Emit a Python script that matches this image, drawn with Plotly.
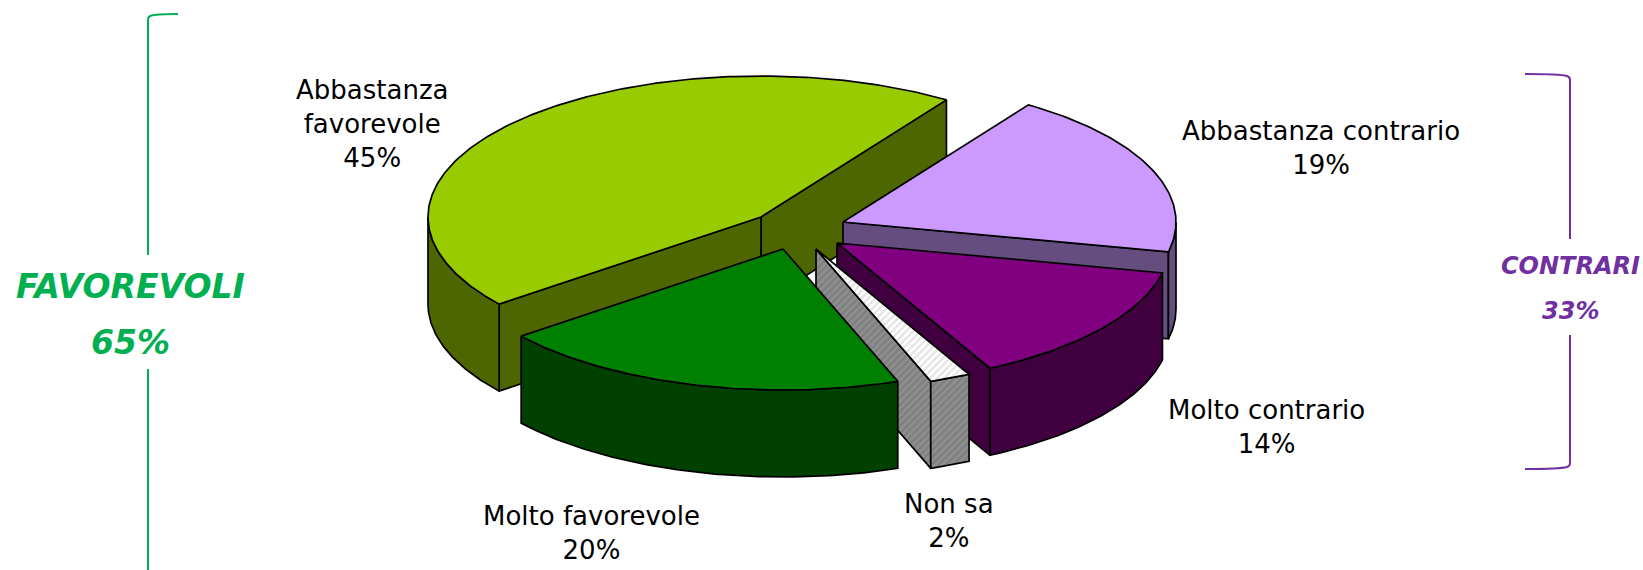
import numpy as np
import plotly.graph_objects as go

# ---- data ----
categories = ["Abbastanza favorevole", "Molto favorevole", "Non sa", "Molto contrario", "Abbastanza contrario"]
label_lines = ["Abbastanza<br>favorevole", "Molto favorevole", "Non sa", "Molto contrario", "Abbastanza contrario"]
values = [45, 20, 2, 14, 19]
group_names = ["FAVOREVOLI", "CONTRARI"]
group_values = [65, 33]

# ---- geometry and style ----
W, H = 1643, 570
RX, RY, DEPTH = 333, 141, 87
START_ANGLE = 56.16
apex = {"Abbastanza favorevole": (761, 217), "Molto favorevole": (783, 249), "Non sa": (816, 249),
        "Molto contrario": (837, 243), "Abbastanza contrario": (843, 222)}
top_col = {"Abbastanza favorevole": "#99CC00", "Molto favorevole": "#008000", "Non sa": "#FFFFFF",
           "Molto contrario": "#800080", "Abbastanza contrario": "#CC99FF"}
wall_col = {"Abbastanza favorevole": "#4D6600", "Molto favorevole": "#004000", "Non sa": "#7F7F7F",
            "Molto contrario": "#400040", "Abbastanza contrario": "#664D80"}
label_pos = {"Abbastanza favorevole": (372, 124), "Molto favorevole": (591, 533), "Non sa": (949, 521),
             "Molto contrario": (1266, 427), "Abbastanza contrario": (1321, 148)}
draw_order = ["Abbastanza favorevole", "Abbastanza contrario", "Molto contrario", "Non sa", "Molto favorevole"]
LINE = dict(color="black", width=1.7)
FONT = "DejaVu Sans, Verdana, sans-serif"

# angular span of each slice, from the values
spans = {}
a = START_ANGLE
for c, v in zip(categories, values):
    b = a + v * 3.6
    spans[c] = (a, b)
    a = b


def rim(c, a0, a1):
    n = max(2, int(abs(a1 - a0) * 1.5))
    t = np.radians(np.linspace(a0, a1, n))
    ax, ay = apex[c]
    return ax + RX * np.cos(t), ay - RY * np.sin(t)


def poly(x, y, col, pattern=None):
    kw = {}
    if pattern:
        kw["fillpattern"] = dict(shape="/", bgcolor=col, fgcolor=pattern, size=5, solidity=0.5)
    return go.Scatter(x=list(x) + [x[0]], y=list(y) + [y[0]], mode="lines", fill="toself", fillcolor=col,
                      line=LINE, hoverinfo="skip", showlegend=False, **kw)


fig = go.Figure()
for c in draw_order:
    a0, a1 = spans[c]
    ax, ay = apex[c]
    wall_pat = "#A0A0A0" if c == "Non sa" else None
    top_pat = "#CCCCCC" if c == "Non sa" else None
    # radial walls that face the viewer
    for ang, visible in ((a0, np.cos(np.radians(a0)) > 0), (a1, np.cos(np.radians(a1)) < 0)):
        if not visible:
            continue
        ex, ey = rim(c, ang, ang)
        ex, ey = ex[0], ey[0]
        fig.add_trace(poly([ax, ex, ex, ax], [ay, ey, ey + DEPTH, ay + DEPTH], wall_col[c], wall_pat))
    # outer wall: the part of the rim that faces the viewer
    for lo, hi in ((180, 360), (540, 720)):
        s, e = max(a0, lo), min(a1, hi)
        if e > s:
            x, y = rim(c, s, e)
            fig.add_trace(poly(np.r_[x, x[::-1]], np.r_[y, y[::-1] + DEPTH], wall_col[c], wall_pat))
    # top face
    x, y = rim(c, a0, a1)
    fig.add_trace(poly(np.r_[ax, x], np.r_[ay, y], top_col[c], top_pat))

annotations = []
for c, v, t in zip(categories, values, label_lines):
    px, py = label_pos[c]
    annotations.append(dict(x=px, y=py, text=f"{t}<br>{v}%", showarrow=False, xanchor="center", yanchor="middle",
                            font=dict(family=FONT, size=26, color="black")))
GREEN, PURPLE = "#00B050", "#7030A0"
annotations += [
    dict(x=130, y=286, text=f"<b><i>{group_names[0]}</i></b>", showarrow=False,
         font=dict(family=FONT, size=33, color=GREEN)),
    dict(x=130, y=342, text=f"<b><i>{group_values[0]}%</i></b>", showarrow=False,
         font=dict(family=FONT, size=33, color=GREEN)),
    dict(x=1570, y=266, text=f"<b><i>{group_names[1]}</i></b>", showarrow=False,
         font=dict(family=FONT, size=24, color=PURPLE)),
    dict(x=1570, y=311, text=f"<b><i>{group_values[1]}%</i></b>", showarrow=False,
         font=dict(family=FONT, size=24, color=PURPLE)),
]

BR = 2
shapes = [
    dict(type="path", path="M 178 14 Q 155 14 150 16 Q 148 17 148 20 L 148 255", line=dict(color=GREEN, width=BR)),
    dict(type="line", x0=148, x1=148, y0=369, y1=570, line=dict(color=GREEN, width=BR)),
    dict(type="path", path="M 1525 74 Q 1560 74 1567 76 Q 1570 77 1570 80 L 1570 239", line=dict(color=PURPLE, width=BR)),
    dict(type="path", path="M 1570 335 L 1570 463 Q 1570 466 1567 467 Q 1560 469 1525 469", line=dict(color=PURPLE, width=BR)),
]

fig.update_layout(
    width=W, height=H, margin=dict(l=0, r=0, t=0, b=0), paper_bgcolor="white", plot_bgcolor="white",
    xaxis=dict(range=[0, W], visible=False, fixedrange=True),
    yaxis=dict(range=[H, 0], visible=False, fixedrange=True),
    annotations=annotations, shapes=shapes, showlegend=False,
)
fig.write_html("out.html", config=dict(displayModeBar=False),
               post_script="document.body.style.margin='0';document.documentElement.style.overflow='hidden';")
